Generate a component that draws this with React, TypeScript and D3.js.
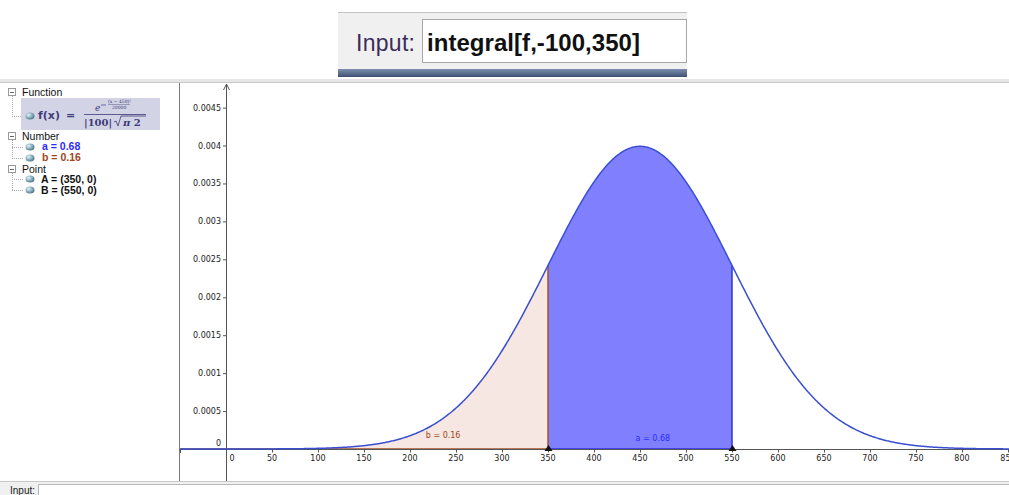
import * as d3 from "d3";

// function shown in the algebra view: f(x) = e^(-(x-450)^2/20000) / (|100| sqrt(pi 2))
const mu = 450;
const sigma = 100;
const xTicks = [0, 50, 100, 150, 200, 250, 300, 350, 400, 450, 500, 550, 600, 650, 700, 750, 800, 850];
const yTicks = [0.0005, 0.001, 0.0015, 0.002, 0.0025, 0.003, 0.0035, 0.004, 0.0045];
const yTickLabels = ["0.0005", "0.001", "0.0015", "0.002", "0.0025", "0.003", "0.0035", "0.004", "0.0045"];
const regionB = [-100, 350];
const regionA = [350, 550];
const points = [
  { name: "A", x: 350 },
  { name: "B", x: 550 },
];
const numbers = [
  { name: "a", value: 0.68, color: "#2b2bff", at: 464 },
  { name: "b", value: 0.16, color: "#a0441c", at: 236 },
];

const f = (x: number) =>
  Math.exp(-((x - mu) ** 2) / (2 * sigma * sigma)) / (Math.abs(sigma) * Math.sqrt(Math.PI * 2));

const font = "'DejaVu Sans', sans-serif";
const uiFont = "'Liberation Sans', Arial, sans-serif";

export default function App() {
  const x = d3.scaleLinear().domain([0, 850]).range([226, 1008]);
  const y = d3.scaleLinear().domain([0, 0.0045]).range([449, 107.6]);

  const line = d3
    .line<number>()
    .x((d) => x(d))
    .y((d) => y(f(d)));
  const area = d3
    .area<number>()
    .x((d) => x(d))
    .y0(y(0))
    .y1((d) => y(f(d)));

  const sample = (a: number, b: number) => {
    const s = d3.range(a, b, 1);
    s.push(b);
    return s;
  };
  const curvePts = sample(-60, 860);
  const bPts = sample(regionB[0], regionB[1]);
  const aPts = sample(regionA[0], regionA[1]);

  return (
    <svg
      width={1009}
      height={495}
      style={{ position: "absolute", left: 0, top: 0, background: "#fff" }}
    >
      <defs>
        <linearGradient id="stripe" x1="0" y1="0" x2="0" y2="1">
          <stop offset="0" stopColor="#7d8fae" />
          <stop offset="1" stopColor="#3f5171" />
        </linearGradient>
        <radialGradient id="ball" cx="0.35" cy="0.35" r="0.7">
          <stop offset="0" stopColor="#e8f4f8" />
          <stop offset="0.5" stopColor="#8fb4c4" />
          <stop offset="1" stopColor="#4f7482" />
        </radialGradient>
        <clipPath id="view">
          <rect x={180} y={83} width={829} height={398} />
        </clipPath>
      </defs>

      {/* input bar snippet at top */}
      <rect x={338} y={12} width={349} height={57} fill="#f0f0f0" />
      <line x1={338} x2={687} y1={12.5} y2={12.5} stroke="#c4c4c4" />
      <rect x={422.5} y={19.5} width={264} height={43} fill="#fff" stroke="#a8a8a8" />
      <rect x={338} y={69} width={349} height={8} fill="url(#stripe)" />
      <text x={356} y={51} fontFamily={uiFont} fontSize={23} fill="#3b2c5a" textLength={59}>
        Input:
      </text>
      <text x={427} y={51} fontFamily={uiFont} fontSize={24} fontWeight="bold" fill="#111" textLength={213}>
        integral[f,-100,350]
      </text>

      {/* window frame */}
      <rect x={0} y={79} width={1009} height={4} fill="#e6e6e6" />
      <line x1={0} x2={1009} y1={82.5} y2={82.5} stroke="#c8c8c8" />
      <line x1={179.5} x2={179.5} y1={83} y2={482} stroke="#7a7a7a" />
      <line x1={0} x2={1009} y1={481.5} y2={481.5} stroke="#c8c8c8" />
      <rect x={0} y={482} width={1009} height={13} fill="#f0f0f0" />
      <rect x={38.5} y={484.5} width={980} height={14} fill="#fff" stroke="#b8b8b8" />
      <text x={10} y={494} fontFamily={uiFont} fontSize={10} fill="#222">
        Input:
      </text>

      {/* algebra view */}
      <g fontFamily={uiFont} fontSize={10.5} fill="#111">
        <line x1={12.5} x2={12.5} y1={96} y2={116} stroke="#aaa" strokeDasharray="1,1" />
        <line x1={12} x2={24} y1={116.5} y2={116.5} stroke="#aaa" strokeDasharray="1,1" />
        <line x1={12.5} x2={12.5} y1={140} y2={158} stroke="#aaa" strokeDasharray="1,1" />
        <line x1={12} x2={24} y1={147.5} y2={147.5} stroke="#aaa" strokeDasharray="1,1" />
        <line x1={12} x2={24} y1={158.5} y2={158.5} stroke="#aaa" strokeDasharray="1,1" />
        <line x1={12.5} x2={12.5} y1={173} y2={190} stroke="#aaa" strokeDasharray="1,1" />
        <line x1={12} x2={24} y1={179.5} y2={179.5} stroke="#aaa" strokeDasharray="1,1" />
        <line x1={12} x2={24} y1={190.5} y2={190.5} stroke="#aaa" strokeDasharray="1,1" />

        {[92, 136, 169].map((cy) => (
          <g key={cy}>
            <rect x={8.5} y={cy - 3.5} width={7} height={7} fill="#fff" stroke="#999" />
            <line x1={10} x2={14} y1={cy + 0.5} y2={cy + 0.5} stroke="#666" />
          </g>
        ))}
        <text x={22} y={96}>Function</text>
        <text x={22} y={140}>Number</text>
        <text x={22} y={173}>Point</text>

        <rect x={21} y={98} width={139} height={32} fill="#d3d3e6" />
        {[116, 147, 158, 179, 190].map((cy) => (
          <ellipse key={cy} cx={30} cy={cy} rx={4.5} ry={3.5} fill="url(#ball)" />
        ))}
        <text x={38} y={119} fontFamily={font} fontWeight="bold" fontSize={11} fill="#3c3c78">
          f(x)
        </text>
        <text x={66} y={119} fontFamily={font} fontWeight="bold" fontSize={11} fill="#3c3c78">
          =
        </text>
        <text x={95} y={111} fontFamily="'DejaVu Serif', serif" fontStyle="italic" fontSize={9} fill="#3c3c78">
          e
        </text>
        <line x1={101} x2={106} y1={105} y2={105} stroke="#3c3c78" strokeWidth={0.7} />
        <text x={108} y={103} fontFamily="'DejaVu Serif', serif" fontSize={4.5} fill="#3c3c78">
          (x − 450)²
        </text>
        <line x1={108} x2={130} y1={104.5} y2={104.5} stroke="#3c3c78" strokeWidth={0.4} />
        <text x={112} y={109} fontFamily="'DejaVu Serif', serif" fontSize={4.5} fill="#3c3c78">
          20000
        </text>
        <line x1={84} x2={146} y1={114.5} y2={114.5} stroke="#3c3c78" strokeWidth={0.8} />
        <text x={84} y={126} fontFamily="'DejaVu Serif', serif" fontWeight="bold" fontSize={10} fill="#3c3c78">
          |100|
        </text>
        <path d="M114,122 l2,-1 l2,5 l3,-10 h25" fill="none" stroke="#3c3c78" strokeWidth={0.8} />
        <text x={123} y={126} fontFamily="'DejaVu Serif', serif" fontWeight="bold" fontSize={10} fill="#3c3c78">
          <tspan fontStyle="italic">π</tspan> 2
        </text>

        {numbers.map((n, i) => (
          <text key={n.name} x={42} y={150 + i * 11} fontWeight="bold" fill={n.color}>
            {n.name} = {n.value}
          </text>
        ))}
        {points.map((p, i) => (
          <text key={p.name} x={41} y={183 + i * 11} fontWeight="bold">
            {p.name} = ({p.x}, 0)
          </text>
        ))}
      </g>

      {/* graphics view */}
      <g clipPath="url(#view)">
        <path d={area(bPts) ?? ""} fill="#f6e7e2" />
        <path d={area(aPts) ?? ""} fill="#8080ff" />
        <line x1={x(regionB[0])} x2={x(regionB[1])} y1={y(0)} y2={y(0)} stroke="#a0522d" strokeWidth={1.5} />
        <line x1={x(regionB[1])} x2={x(regionB[1])} y1={y(0)} y2={y(f(regionB[1]))} stroke="#a0522d" strokeWidth={1.5} />
        <line x1={x(regionA[1])} x2={x(regionA[1])} y1={y(0)} y2={y(f(regionA[1]))} stroke="#3030e0" strokeWidth={1.5} />
        <line x1={x(regionA[0])} x2={x(regionA[1])} y1={y(0)} y2={y(0)} stroke="#3030e0" strokeWidth={1.5} />

        {/* axes */}
        <line x1={180} x2={1009} y1={y(0) + 0.5} y2={y(0) + 0.5} stroke="#555" />
        <line x1={x(0) + 0.5} x2={x(0) + 0.5} y1={85} y2={481} stroke="#555" />
        <path d={`M${x(0) + 0.5},84 l-3,6 M${x(0) + 0.5},84 l3,6`} stroke="#555" fill="none" />
        <line x1={180.5} x2={180.5} y1={y(0)} y2={y(0) + 4} stroke="#555" />
        {xTicks.map((t) => (
          <g key={t}>
            {t !== 0 && (
              <line x1={x(t) + 0.5} x2={x(t) + 0.5} y1={y(0)} y2={y(0) + 3.5} stroke="#555" />
            )}
            <text
              x={t === 0 ? x(t) + 6 : x(t)}
              y={y(0) + 12}
              textAnchor="middle"
              fontFamily={font}
              fontSize={8}
              fill="#222"
            >
              {t}
            </text>
          </g>
        ))}
        {yTicks.map((t, i) => (
          <g key={t}>
            <line x1={x(0) - 3} x2={x(0)} y1={y(t) + 0.5} y2={y(t) + 0.5} stroke="#555" />
            <text x={x(0) - 5} y={y(t) + 3} textAnchor="end" fontFamily={font} fontSize={8} fill="#222">
              {yTickLabels[i]}
            </text>
          </g>
        ))}
        <text x={x(0) - 5} y={y(0) - 3} textAnchor="end" fontFamily={font} fontSize={8} fill="#222">
          0
        </text>

        <path d={line(curvePts) ?? ""} fill="none" stroke="#3a4fd0" strokeWidth={1.5} />

        {numbers.map((n) => (
          <text
            key={n.name}
            x={x(n.at)}
            y={y(0) - (n.name === "a" ? 8 : 11)}
            textAnchor="middle"
            fontFamily={font}
            fontSize={8}
            fill={n.color}
          >
            {n.name} = {n.value}
          </text>
        ))}

        {points.map((p) => (
          <path
            key={p.name}
            d={`M${x(p.x) + 0.5},${y(0) - 4} l4,6 h-8 z`}
            fill="#111"
          />
        ))}
      </g>
    </svg>
  );
}
